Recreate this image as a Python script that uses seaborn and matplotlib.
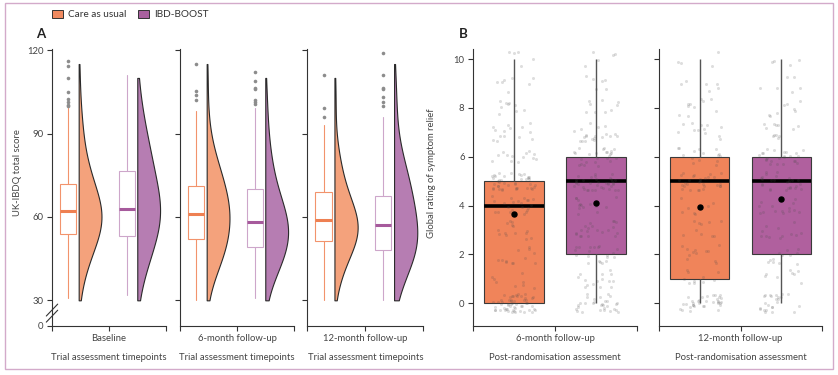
import numpy as np
import pandas as pd
import matplotlib
matplotlib.use('Agg')
import matplotlib.pyplot as plt
from matplotlib.patches import Patch, Rectangle
from matplotlib.lines import Line2D
import seaborn as sns

# --- DATA ---
GROUPS = ['Care as usual', 'IBD-BOOST']
TIMEPOINTS_A = ['Baseline', '6-month follow-up', '12-month follow-up']
TIMEPOINTS_B = ['6-month follow-up', '12-month follow-up']

IBDQ_LEVELS = [30, 35, 40, 45, 50, 55, 60, 65, 70, 75, 80, 85, 90, 95, 100, 105, 110, 115, 120]
IBDQ_COUNTS_CAU = [
    [1, 3, 6, 10, 16, 21, 24, 21, 16, 11, 8, 5, 4, 3, 2, 1, 1, 1, 0],
    [1, 4, 9, 15, 19, 21, 22, 21, 18, 14, 10, 6, 3, 2, 1, 1, 1, 1, 0],
    [1, 3, 7, 11, 19, 23, 21, 15, 10, 7, 5, 3, 1, 1, 1, 1, 1, 0, 0],
]
IBDQ_COUNTS_IBD = [
    [1, 3, 6, 9, 13, 16, 18, 18, 15, 13, 11, 9, 7, 5, 3, 2, 1, 0, 0],
    [1, 5, 11, 17, 22, 23, 21, 16, 11, 8, 6, 4, 3, 2, 2, 1, 1, 0, 0],
    [2, 6, 11, 17, 21, 20, 18, 16, 14, 12, 8, 5, 3, 2, 2, 2, 1, 1, 0],
]

# box summaries (baseline, 6 months, 12 months)
Q1_CAU = [54, 52, 51.5]
MED_CAU = [62, 61, 59]
Q3_CAU = [72, 71, 69]
WLO_CAU = [31, 30, 30]
WHI_CAU = [99, 98, 93]
FLIERS_CAU = [
    [99.8, 100.4, 101.4, 102.3, 105.1, 110.1, 114.3, 116.2],
    [102, 104, 105.3, 115],
    [96, 99, 111],
]
Q1_IBD = [53, 49, 48]
MED_IBD = [63, 58, 57]
Q3_IBD = [76.4, 70, 67.4]
WLO_IBD = [32, 31, 30]
WHI_IBD = [111, 99, 96]
FLIERS_IBD = [
    [],
    [100.5, 101.5, 102, 106, 106.5, 109, 112],
    [100, 101.5, 103, 106, 106.5, 111, 119],
]

# global rating of symptom relief: participants per score 0..10 (6 months, 12 months)
RELIEF_SCORES = [0, 1, 2, 3, 4, 5, 6, 7, 8, 9, 10]
RELIEF_CAU = [
    [55, 8, 12, 14, 22, 41, 13, 14, 9, 7, 5],
    [34, 10, 12, 10, 8, 29, 15, 12, 10, 6, 4],
]
RELIEF_IBD = [
    [30, 15, 20, 20, 14, 36, 25, 20, 9, 6, 5],
    [24, 8, 12, 12, 14, 26, 24, 12, 8, 6, 4],
]

# --- STYLE ---
FILL_B = {'Care as usual': '#F0845A', 'IBD-BOOST': '#B0609E'}
VIOLIN_COL = {'Care as usual': '#F4A27C', 'IBD-BOOST': '#B67DB2'}
BOX_LINE = {'Care as usual': '#F2936C', 'IBD-BOOST': '#CDA6CA'}
BOX_MED = {'Care as usual': '#EE8052', 'IBD-BOOST': '#A65A9C'}
LEGEND_COL = {'Care as usual': '#F08A60', 'IBD-BOOST': '#A8609E'}
AX_COL = '#333333'
TXT_COL = '#444444'
FS = 6.8

sns.set_style('ticks')
plt.rcParams['font.family'] = ['Lato', 'DejaVu Sans']

W, H = 838, 375


def rect(x0, x1, y0=49, y1=325.7):
    return [x0 / W, 1 - y1 / H, (x1 - x0) / W, (y1 - y0) / H]


def style_axis(ax):
    sns.despine(ax=ax)
    for s in ['left', 'bottom']:
        ax.spines[s].set_color(AX_COL)
        ax.spines[s].set_linewidth(0.8)
    ax.tick_params(colors=AX_COL, labelcolor=TXT_COL, labelsize=FS, length=3.6, width=0.8, pad=2.5)
    ax.set_facecolor('white')


fig = plt.figure(figsize=(W / 100, H / 100), dpi=100)

# --- PANEL A: raincloud (box + half violin) ---
axes_a = [fig.add_axes(rect(52, 166)), fig.add_axes(rect(180, 294)), fig.add_axes(rect(307.3, 423.3))]
box_pos = {'Care as usual': 0.14, 'IBD-BOOST': 0.655}
vio_edge = {'Care as usual': 0.234, 'IBD-BOOST': 0.748}
vio_width = 0.2

for i, ax in enumerate(axes_a):
    for g, counts, q1, med, q3, wlo, whi, fl in [
        ('Care as usual', IBDQ_COUNTS_CAU[i], Q1_CAU[i], MED_CAU[i], Q3_CAU[i], WLO_CAU[i], WHI_CAU[i], FLIERS_CAU[i]),
        ('IBD-BOOST', IBDQ_COUNTS_IBD[i], Q1_IBD[i], MED_IBD[i], Q3_IBD[i], WLO_IBD[i], WHI_IBD[i], FLIERS_IBD[i]),
    ]:
        vals = np.repeat(IBDQ_LEVELS, counts)
        # seaborn puts the flat side of a split violin half a width left of its position
        d = pd.DataFrame({'pos': vio_edge[g] + vio_width / 2, 'score': vals, 'side': 'right'})
        sns.violinplot(data=d, x='pos', y='score', hue='side', hue_order=['left', 'right'],
                       split=True, native_scale=True, dodge=False,
                       palette={'left': VIOLIN_COL[g], 'right': VIOLIN_COL[g]}, saturation=1,
                       inner=None, cut=0, density_norm='width', width=vio_width, bw_adjust=1.2,
                       linewidth=0.8, linecolor='#2a2a2a', legend=False, ax=ax)
        stats = [dict(med=med, q1=q1, q3=q3, whislo=wlo, whishi=whi, fliers=fl)]
        ax.bxp(stats, positions=[box_pos[g]], widths=0.14, patch_artist=True, showcaps=False,
               boxprops=dict(facecolor='white', edgecolor=BOX_LINE[g], linewidth=0.8),
               whiskerprops=dict(color=BOX_LINE[g], linewidth=0.8),
               medianprops=dict(color=BOX_MED[g], linewidth=2.2),
               flierprops=dict(marker='o', markersize=2.6, markerfacecolor='#8c8c8c', markeredgecolor='none'),
               manage_ticks=False)
    style_axis(ax)
    ax.set_xlim(0, 1)
    ax.set_ylim(20.87, 120.4)
    ax.set_xticks([0, 0.5, 1])
    ax.set_xticklabels(['', TIMEPOINTS_A[i], ''])
    ax.set_xlabel('Trial assessment timepoints', fontsize=FS, color=TXT_COL, labelpad=7)
    if i == 0:
        ax.set_yticks([20.87, 30, 60, 90, 120])
        ax.set_yticklabels(['0', '30', '60', '90', '120'])
        ax.set_ylabel('UK-IBDQ total score', fontsize=FS, color=TXT_COL)
        ax.yaxis.set_label_coords(-0.26, 0.552)
        for dy in (0.0, 0.022):
            ax.add_line(Line2D([-0.05, 0.05], [0.035 - dy, 0.078 - dy], transform=ax.transAxes,
                               color=AX_COL, lw=0.8, clip_on=False))
    else:
        ax.set_yticks([30, 60, 90, 120])
        ax.set_yticklabels([])
        ax.set_ylabel('')

# --- PANEL B: boxes with jittered points ---
np.random.seed(7)
rng = np.random.default_rng(11)
axes_b = [fig.add_axes(rect(473, 637)), fig.add_axes(rect(659, 822))]
for i, ax in enumerate(axes_b):
    frames = []
    for g, counts in [('Care as usual', RELIEF_CAU[i]), ('IBD-BOOST', RELIEF_IBD[i])]:
        frames.append(pd.DataFrame({'group': g, 'score': np.repeat(RELIEF_SCORES, counts)}))
    d = pd.concat(frames, ignore_index=True)
    sns.boxplot(data=d, x='group', y='score', hue='group', order=GROUPS, hue_order=GROUPS,
                palette=FILL_B, saturation=1, width=0.72, showcaps=False, fliersize=0,
                linecolor='#3a3a3a', linewidth=0.8,
                medianprops=dict(color='black', linewidth=2.6),
                whiskerprops=dict(color='#555555', linewidth=1.0),
                showmeans=True,
                meanprops=dict(marker='o', markerfacecolor='black', markeredgecolor='black',
                               markersize=3.6, zorder=6),
                legend=False, ax=ax)
    # display jitter on the value axis, like the original's jittered points
    d['score_j'] = d['score'] + rng.uniform(-0.38, 0.38, len(d))
    sns.stripplot(data=d, x='group', y='score_j', order=GROUPS, jitter=0.27, size=2.2,
                  color='#4a4a4a', alpha=0.18, linewidth=0, ax=ax, zorder=4)
    style_axis(ax)
    ax.set_xlim(-0.5, 1.5)
    ax.set_ylim(-0.92, 10.41)
    ax.set_xticks([-0.5, 0.5, 1.5])
    ax.set_xticklabels(['', TIMEPOINTS_B[i], ''])
    ax.set_xlabel('Post-randomisation assessment', fontsize=FS, color=TXT_COL, labelpad=7)
    ax.set_yticks([0, 2, 4, 6, 8, 10])
    if i == 0:
        ax.set_ylabel('Global rating of symptom relief', fontsize=FS, color=TXT_COL)
        ax.yaxis.set_label_coords(-0.226, 0.552)
    else:
        ax.set_yticklabels([])
        ax.set_ylabel('')

# --- labels, legend, frame ---
fig.text(41 / W, 1 - 34 / H, 'A', fontsize=9.5, fontweight='bold', color='#222222', ha='center', va='center')
fig.text(463 / W, 1 - 34 / H, 'B', fontsize=9.5, fontweight='bold', color='#222222', ha='center', va='center')

handles = [Patch(facecolor=LEGEND_COL[g], edgecolor='#333333', linewidth=0.7) for g in GROUPS]
fig.legend(handles, GROUPS, loc='upper left', bbox_to_anchor=(52 / W, 1 - 10 / H), ncol=2, frameon=False,
           fontsize=7.2, handlelength=1.1, handleheight=0.8, handletextpad=0.5, columnspacing=1.2,
           borderpad=0, borderaxespad=0, labelcolor='#333333')

fig.patches.append(Rectangle((5 / W, 6 / H), 828 / W, 366 / H, transform=fig.transFigure,
                             fill=False, edgecolor='#D3AACA', linewidth=1.0))

fig.savefig('out.png', dpi=100, facecolor='white')
